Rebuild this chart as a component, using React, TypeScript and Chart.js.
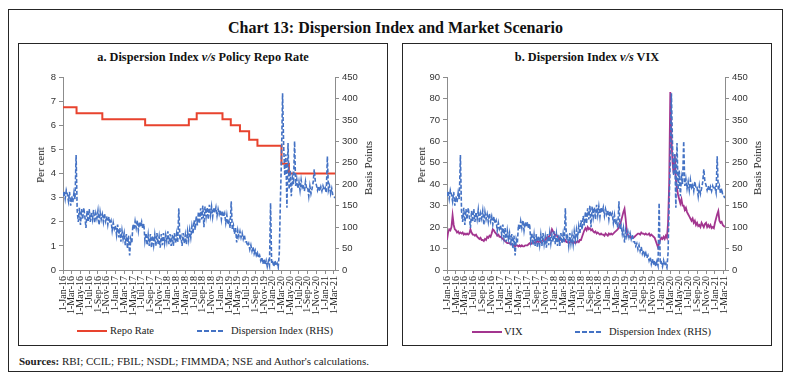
import React, { useEffect, useRef } from 'react';
import { Chart, registerables } from 'chart.js';

Chart.register(...registerables);

// ---------- DATA ----------
// x-axis tick labels (one every two months, starting at month 0 = Jan-2016)
const tickLabels = [
  '1-Jan-16', '1-Mar-16', '1-May-16', '1-Jul-16', '1-Sep-16', '1-Nov-16',
  '1-Jan-17', '1-Mar-17', '1-May-17', '1-Jul-17', '1-Sep-17', '1-Nov-17',
  '1-Jan-18', '1-Mar-18', '1-May-18', '1-Jul-18', '1-Sep-18', '1-Nov-18',
  '1-Jan-19', '1-Mar-19', '1-May-19', '1-Jul-19', '1-Sep-19', '1-Nov-19',
  '1-Jan-20', '1-Mar-20', '1-May-20', '1-Jul-20', '1-Sep-20', '1-Nov-20',
  '1-Jan-21', '1-Mar-21',
];

// Policy repo rate (per cent): month (from Jan-16) at which each rate starts
const repoStartMonth = [0, 3.1, 9.0, 18.8, 28.8, 30.6, 36.5, 38.4, 40.5, 42.6, 44.5, 50.0, 51.7, 62.25];
const repoRate = [6.75, 6.5, 6.25, 6.0, 6.25, 6.5, 6.25, 6.0, 5.75, 5.4, 5.15, 4.4, 4.0, 4.0];

// Dispersion index (basis points), weekly observations (4 per month) from Jan-16
const dispersionBp = [
  172, 184, 166, 186, 176, 160, 182, 150, 172, 158, 180, 165, 268, 138, 112, 145,
  105, 142, 118, 145, 125, 98, 138, 112, 142, 112, 135, 118, 140, 110, 132, 120,
  138, 105, 135, 118, 130, 112, 132, 114, 125, 106, 124, 108, 115, 92, 110, 96,
  104, 82, 106, 76, 98, 66, 92, 72, 86, 58, 84, 50, 80, 34, 72, 62,
  106, 94, 114, 98, 116, 92, 112, 100, 112, 96, 108, 68, 86, 58, 82, 56,
  84, 52, 80, 58, 82, 56, 86, 60, 78, 52, 84, 58, 86, 62, 82, 66,
  90, 60, 84, 56, 82, 56, 86, 62, 84, 64, 144, 70, 78, 56, 86, 62,
  82, 60, 90, 70, 94, 76, 102, 84, 116, 94, 126, 104, 136, 108, 144, 118,
  150, 100, 148, 124, 146, 118, 152, 128, 148, 124, 146, 134, 146, 126, 142, 130,
  140, 118, 138, 124, 132, 110, 128, 106, 114, 98, 160, 94, 104, 84, 98, 64,
  92, 78, 90, 76, 86, 72, 82, 66, 66, 56, 62, 48, 58, 44, 54, 38,
  46, 34, 40, 28, 34, 22, 30, 14, 26, 12, 22, 8, 20, 10, 156, 14,
  18, 8, 22, 10, 16, 6, 40, 160, 260, 412, 290, 220, 270, 145, 296, 188,
  232, 172, 216, 200, 300, 196, 212, 190, 206, 186, 210, 192, 198, 184, 206, 190,
  192, 172, 196, 178, 190, 204, 235, 206, 198, 186, 196, 184, 194, 184, 196, 188,
  192, 180, 265, 186, 196, 178, 190, 174, 172, 168,
];

// India VIX (per cent), weekly observations (4 per month) from Jan-16
const vixValues = [
  14, 17.5, 19, 18.5, 20, 25.5, 21, 19, 18.5, 17.5, 18, 17, 17.5, 17, 17.5, 16.5,
  17, 16.5, 17, 16.5, 17, 19, 17.5, 16.5, 16.5, 16, 16.5, 15.5, 15, 14.5, 15, 14,
  14, 13.5, 14.5, 14, 15.5, 15, 16, 15.5, 17, 19, 18.5, 17.5, 17, 16, 16.5, 15.5,
  15.5, 15, 14.5, 14, 13.5, 13, 12.5, 12.5, 12.5, 12, 12, 11.5, 11.5, 11, 11.5, 11.5,
  11, 11.5, 11, 11.5, 11, 11, 11.5, 11.5, 11.5, 12, 12.5, 12, 12.5, 13.5, 13, 12.5,
  13, 13.5, 13, 13.5, 13, 13.5, 14, 13.5, 14, 15, 14.5, 15.5, 16, 17, 19, 18,
  17, 16, 16.5, 15.5, 15, 14, 14.5, 13.5, 14, 13.5, 14, 13, 13, 12.5, 13, 13.5,
  13, 12.5, 13, 12.5, 13, 13.5, 13, 14, 14, 15.5, 17, 18.5, 19.5, 18.5, 20, 19,
  19.5, 18.5, 19, 18, 17.5, 18, 17, 17.5, 17, 16.5, 17, 16.5, 16.5, 16, 17, 16.5,
  16, 17, 16.5, 17, 16.5, 17, 17.5, 18, 18.5, 19, 20, 21.5, 23, 25, 27, 28.5,
  24, 18, 16.5, 15.5, 15.5, 15, 15.5, 15, 15.5, 16, 16.5, 17, 17, 16.5, 17.5, 17,
  17, 16.5, 17, 16.5, 16.5, 17, 16, 16.5, 16, 15.5, 15, 13.5, 12, 10.5, 12.5, 14,
  15, 14.5, 15.5, 14.5, 16, 15, 22, 40, 83, 62, 50, 45, 54, 42, 38, 35,
  33, 31, 33, 30, 30, 28, 29, 27, 26, 25, 24, 23, 24, 22, 23, 21,
  22, 20.5, 21, 20, 22, 21, 20, 21.5, 22, 20, 21, 20, 21, 19.5, 20, 19.5,
  22, 24, 26, 27.5, 23, 22, 22.5, 21, 20.5, 20,
];

const labelsA = ['Repo Rate', 'Dispersion Index (RHS)'];
const labelsB = ['VIX', 'Dispersion Index (RHS)'];

// ---------- STYLE ----------
const STEP = 0.25; // months between weekly observations
const X_MAX = 62.25;
const RED = '#E8432E';
const BLUE = '#4472C4';
const PURPLE = '#A3358F';
const AXIS = '#8c8c8c';
const SERIF = '"Liberation Serif", "Times New Roman", serif';
const SANS = '"Liberation Sans", Arial, sans-serif';

const weekly = (values: number[]) => values.map((v, i) => ({ x: i * STEP, y: v }));

function buildOptions(leftMax: number, leftStep: number, leftWidth: number, rightWidth: number): any {
  const tickFont = { family: SANS, size: 9.5 };
  const gridCfg = { display: true, drawOnChartArea: false, drawTicks: true, tickLength: 4, color: AXIS };
  return {
    responsive: false,
    animation: false,
    events: [],
    layout: { padding: { top: 11, left: 0, right: 0, bottom: 0 } },
    plugins: { legend: { display: false }, tooltip: { enabled: false }, title: { display: false } },
    elements: { point: { radius: 0 }, line: { tension: 0 } },
    scales: {
      x: {
        type: 'linear',
        min: 0,
        max: X_MAX,
        afterBuildTicks: (s: any) => {
          s.ticks = tickLabels.map((_, i) => ({ value: i * 2 }));
        },
        afterFit: (s: any) => {
          s.height = 54;
        },
        ticks: {
          autoSkip: false,
          minRotation: 90,
          maxRotation: 90,
          padding: 2,
          color: '#222',
          font: { family: SERIF, size: 10 },
          callback: (_v: any, i: number) => tickLabels[i],
        },
        grid: gridCfg,
        border: { display: true, color: AXIS, width: 1 },
      },
      y: {
        type: 'linear',
        position: 'left',
        min: 0,
        max: leftMax,
        afterFit: (s: any) => {
          s.width = leftWidth;
        },
        ticks: { stepSize: leftStep, padding: 3, color: '#333', font: tickFont },
        grid: gridCfg,
        border: { display: true, color: AXIS, width: 1 },
      },
      y1: {
        type: 'linear',
        position: 'right',
        min: 0,
        max: 450,
        afterFit: (s: any) => {
          s.width = rightWidth;
        },
        ticks: { stepSize: 50, padding: 3, color: '#333', font: tickFont },
        grid: gridCfg,
        border: { display: true, color: AXIS, width: 1 },
      },
    },
  };
}

function PanelChart(props: { left: number; top: number; datasets: any[]; leftMax: number; leftStep: number; rightWidth: number }) {
  const ref = useRef<HTMLCanvasElement>(null);
  useEffect(() => {
    if (!ref.current) return;
    const chart = new Chart(ref.current, {
      type: 'line',
      data: { datasets: props.datasets },
      options: buildOptions(props.leftMax, props.leftStep, 44, props.rightWidth),
    } as any);
    return () => chart.destroy();
  }, []);
  return (
    <canvas
      ref={ref}
      width={368}
      height={258}
      style={{ position: 'absolute', left: props.left, top: props.top, width: 368, height: 258 }}
    />
  );
}

function VText(props: { cx: number; cy: number; text: string }) {
  return (
    <div
      style={{
        position: 'absolute',
        left: props.cx,
        top: props.cy,
        transform: 'translate(-50%, -50%) rotate(-90deg)',
        font: `11px ${SERIF}`,
        whiteSpace: 'nowrap',
        color: '#222',
        lineHeight: '12px',
      }}
    >
      {props.text}
    </div>
  );
}

function LegendItem(props: { x: number; w: number; tx: number; y: number; color: string; dashed?: boolean; label: string }) {
  return (
    <>
      <div
        style={{
          position: 'absolute',
          left: props.x,
          top: props.y - 1,
          width: props.w,
          height: 2,
          background: props.dashed
            ? `repeating-linear-gradient(to right, ${props.color} 0px, ${props.color} 5px, transparent 5px, transparent 7px)`
            : props.color,
        }}
      />
      <div
        style={{
          position: 'absolute',
          left: props.tx,
          top: props.y - 7,
          font: `10.5px ${SERIF}`,
          lineHeight: '14px',
          whiteSpace: 'nowrap',
          color: '#222',
        }}
      >
        {props.label}
      </div>
    </>
  );
}

const box = (left: number, top: number, width: number, height: number): React.CSSProperties => ({
  position: 'absolute',
  left,
  top,
  width,
  height,
  border: '1px solid #262626',
  boxSizing: 'border-box',
});

export default function App() {
  const dispersionData = weekly(dispersionBp);
  const repoData = repoStartMonth.map((m, i) => ({ x: m, y: repoRate[i] }));
  const vixData = weekly(vixValues);

  const datasetsA = [
    {
      label: labelsA[1],
      data: dispersionData,
      yAxisID: 'y1',
      borderColor: BLUE,
      borderWidth: 1.6,
      borderDash: [4, 2],
      pointRadius: 0,
    },
    {
      label: labelsA[0],
      data: repoData,
      yAxisID: 'y',
      borderColor: RED,
      borderWidth: 2,
      stepped: 'before',
      pointRadius: 0,
    },
  ];
  const datasetsB = [
    {
      label: labelsB[1],
      data: dispersionData,
      yAxisID: 'y1',
      borderColor: BLUE,
      borderWidth: 1.6,
      borderDash: [4, 2],
      pointRadius: 0,
    },
    {
      label: labelsB[0],
      data: vixData,
      yAxisID: 'y',
      borderColor: PURPLE,
      borderWidth: 1.8,
      pointRadius: 0,
    },
  ];

  const panelTitle: React.CSSProperties = {
    position: 'absolute',
    top: 50,
    font: `bold 12.3px ${SERIF}`,
    lineHeight: '14px',
    textAlign: 'center',
    color: '#111',
    whiteSpace: 'nowrap',
  };

  return (
    <div style={{ position: 'absolute', left: 0, top: 0, width: 788, height: 382, background: '#fff' }}>
      <div style={box(8, 9, 775, 363)} />
      <div
        style={{
          position: 'absolute',
          left: 8,
          top: 18,
          width: 775,
          textAlign: 'center',
          font: `bold 16px ${SERIF}`,
          lineHeight: '20px',
          color: '#111',
        }}
      >
        Chart 13: Dispersion Index and Market Scenario
      </div>

      {/* Panel a */}
      <div style={box(18, 43, 370, 303)} />
      <div style={{ ...panelTitle, left: 18, width: 370 }}>
        a. Dispersion Index <i>v/s</i> Policy Repo Rate
      </div>
      <PanelChart left={19} top={66} datasets={datasetsA} leftMax={8} leftStep={1} rightWidth={52} />
      <VText cx={40} cy={165} text="Per cent" />
      <VText cx={368} cy={168} text="Basis Points" />
      <LegendItem x={77} w={30} tx={110} y={331} color={RED} label={labelsA[0]} />
      <LegendItem x={197} w={28} tx={231} y={331} color={BLUE} dashed label={labelsA[1]} />

      {/* Panel b */}
      <div style={box(402, 43, 370, 303)} />
      <div style={{ ...panelTitle, left: 402, width: 370 }}>
        b. Dispersion Index <i>v/s</i> VIX
      </div>
      <PanelChart left={403} top={66} datasets={datasetsB} leftMax={90} leftStep={10} rightWidth={46} />
      <VText cx={421} cy={165} text="Per cent" />
      <VText cx={757} cy={168} text="Basis Points" />
      <LegendItem x={472} w={30} tx={504} y={332} color={PURPLE} label={labelsB[0]} />
      <LegendItem x={575} w={28} tx={609} y={332} color={BLUE} dashed label={labelsB[1]} />

      <div
        style={{
          position: 'absolute',
          left: 19,
          top: 354,
          font: `11px ${SERIF}`,
          lineHeight: '14px',
          color: '#222',
          whiteSpace: 'nowrap',
        }}
      >
        <b>Sources:</b> RBI; CCIL; FBIL; NSDL; FIMMDA; NSE and Author's calculations.
      </div>
    </div>
  );
}
